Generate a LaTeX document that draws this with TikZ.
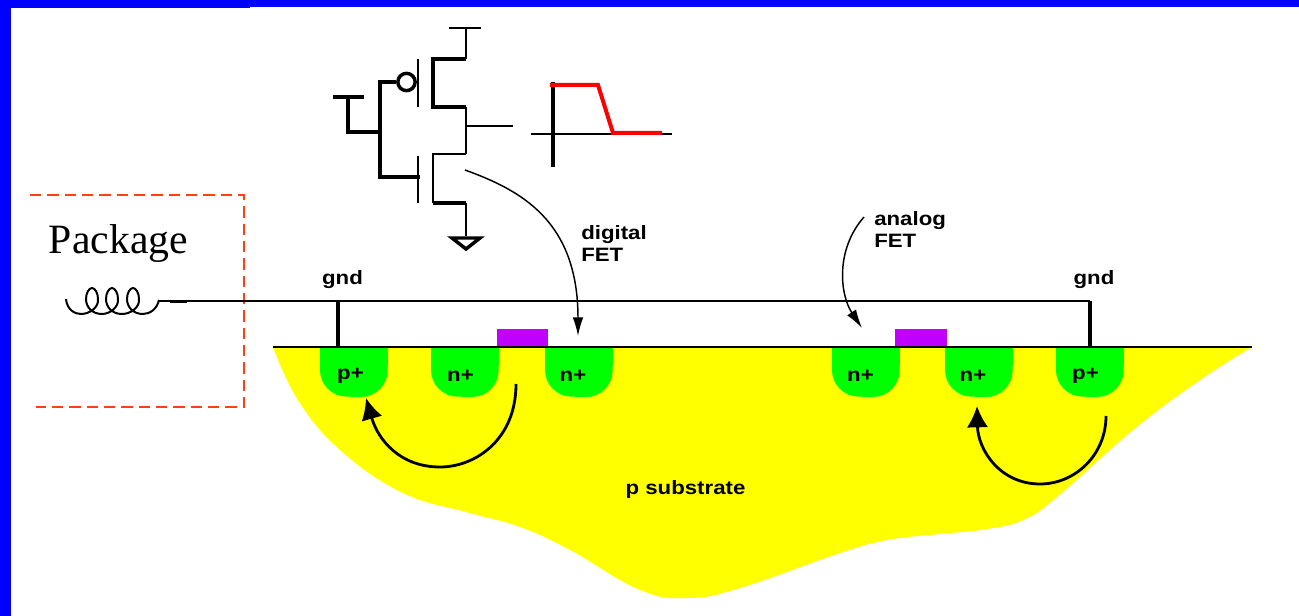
\documentclass[tikz,border=0pt]{standalone}
\usepackage{xcolor}
\definecolor{slideblue}{HTML}{0000FF}
\definecolor{pkgred}{HTML}{FF4015}
\definecolor{subyellow}{HTML}{FFFF00}
\definecolor{wellgreen}{HTML}{00FF00}
\definecolor{gatepurple}{HTML}{BF00FF}
\usepackage{fontspec}
\setmainfont{Liberation Serif}
\newfontfamily\labelfont[FakeStretch=1.15]{Liberation Sans}
\usetikzlibrary{arrows.meta,calc}

\begin{document}
\begin{tikzpicture}[x=0.75pt,y=-0.75pt,>=Latex]
\tikzset{
 wire/.style={draw=black,line width=1.9pt},
 thinwire/.style={draw=black,line width=1.5pt},
 thickwire/.style={draw=black,line width=2.3pt},
 bigarrow/.style={draw=black,line width=2.1pt,-{Latex[length=16pt,width=16pt]}},
 fetarrow/.style={draw=black,line width=1.1pt,-{Latex[length=14pt,width=8pt]}},
 lbl/.style={font=\labelfont\bfseries\fontsize{14.5}{16}\selectfont,inner sep=0pt,text=black,align=left},
 gate/.style={fill=gatepurple,minimum height=13pt,inner sep=0pt,anchor=south}
}
\useasboundingbox (0,0) rectangle (1299,616);
% slide frame
\fill[slideblue] (0,0) rectangle (1299,7);
\fill[slideblue] (0,0) rectangle (250,8);
\fill[slideblue] (0,0) rectangle (11,616);
% substrate
\fill[subyellow] plot[smooth,tension=0.7] coordinates {(273,347) (298,400) (340,450) (403,493) (470,513) (520,527) (570,550) (640,590) (688,598) (740,588) (840,553) (887,540) (940,534) (987,529) (1023,520) (1057,497) (1133,430) (1200,380) (1252,347)} -- cycle;
% wells
\foreach \wx/\wname/\wtext/\tx in {320/w1/p+/350.5,431/w2/n+/460.5,545/w3/n+/573,832/w4/n+/860.5,945/w5/n+/973,1056/w6/p+/1085.5}{
 \fill[wellgreen] (\wx,347) -- (\wx,370) arc[start angle=180,end angle=270,radius=20pt] -- (\wx+41,397) arc[start angle=270,end angle=360,radius=20pt] -- (\wx+68,347) -- cycle;
 \node[lbl] (\wname) at (\tx,376) {\wtext};
}
\node[gate,minimum width=38.5pt] (g1) at (522.5,347) {};
\node[gate,minimum width=39pt] (g2) at (921,347) {};
\coordinate (sl) at (273,347);
\coordinate (sr) at (1252,347);
\draw[thinwire] (sl)--(sr);
% package
\draw[pkgred,line width=1.9pt,dash pattern=on 8.5pt off 4.5pt] (30,195)--(244,195)--(244,407)--(36,407);
\node[font=\fontsize{31.3}{34}\selectfont,inner sep=0pt,anchor=base] (pkg) at (118.5,253.5) {Package};
\coordinate (coilend) at (159,300);
\draw[line width=1.5pt] (66,299) .. controls (67,310) and (75,314) .. (81,314)
 .. controls (90,314) and (99,307) .. (98,299) .. controls (98,293) and (95,288) .. (92,288) .. controls (89,288) and (86,293) .. (86,299) .. controls (86,307) and (92,314) .. (102,314)
 .. controls (110,314) and (119,307) .. (118,299) .. controls (118,293) and (115,288) .. (112,288) .. controls (109,288) and (106,293) .. (106,299) .. controls (106,307) and (112,314) .. (122,314)
 .. controls (131,314) and (140,307) .. (139,299) .. controls (139,293) and (136,288) .. (133,288) .. controls (130,288) and (127,293) .. (127,299) .. controls (127,307) and (133,314) .. (143,314)
 .. controls (150,314) and (157,309) .. (coilend);
% ground wire
\coordinate (tapl) at (338,301);
\coordinate (cornr) at (1090,301);
\draw[wire] (coilend)--(159,301)--(cornr);
\draw[thickwire] (cornr)--(1090,347);
\draw[line width=2.6pt] (170,301.5)--(187,301.5);
\draw[thickwire] (tapl)--(338,347);
\node[lbl,anchor=base] (gnd1) at (342.5,285) {gnd};
\node[lbl,anchor=base] (gnd2) at (1094,285) {gnd};
% inverter
\draw[thinwire] (449,28)--(481,28);
\draw[thinwire] (466,28)--(466,59);
\draw[thickwire] (466,59)--(433,59)--(433,107)--(466,107);
\draw[thinwire] (466,107)--(466,154);
\draw[thinwire] (466,126.5)--(513,126.5);
\draw[wire] (466,154)--(433,154)--(433,203);
\draw[thickwire] (433,203)--(466,203);
\draw[wire] (466,203)--(466,236);
\draw[thinwire] (418,59)--(418,107);
\draw[thinwire] (418,156)--(418,203);
\node[draw,circle,line width=2.6pt,minimum size=13pt,inner sep=0pt] (bub) at (406.5,82) {};
\draw[thickwire] (bub.west)--(380,82)--(380,177)--(420,177);
\draw[thickwire] (333,97)--(364,97);
\draw[thickwire] (348,97)--(348,132)--(380,132);
\draw[line width=2.6pt,line join=miter,fill=white] (452,238)--(480,238)--(466,249)--cycle;
% waveform
\draw[thinwire] (531,134)--(672,134);
\draw[thickwire] (553,82)--(553,167);
\draw[red,line width=3pt] (550,85)--(598,85)--(613,133)--(662,133);
% fet arrows
\coordinate (dstart) at (465,170);
\coordinate (dtip) at (578,336);
\coordinate (astart) at (864,217);
\coordinate (atip) at (862,328);
\draw[fetarrow] (dstart) .. controls (520,190) and (578,220) .. (dtip);
\draw[fetarrow] (astart) .. controls (835,250) and (840,295) .. (atip);
\node[lbl,anchor=base west] (dig) at (581,239.5) {digital};
\node[lbl,anchor=base west] (dfet) at (581,262) {FET};
\node[lbl,anchor=base west] (ana) at (874,226) {analog};
\node[lbl,anchor=base west] (afet) at (874,248) {FET};
\node[lbl,anchor=base] (psub) at (685.5,494) {p substrate};
% carrier paths
\coordinate (c1s) at (516,384);
\coordinate (c1t) at (366,398);
\coordinate (c2s) at (1106,416);
\coordinate (c2t) at (977,406);
\draw[bigarrow] (c1s) .. controls (516,440) and (475,467) .. (440,467) .. controls (400,467) and (378,440) .. (c1t);
\draw[bigarrow] (c2s) .. controls (1106,455) and (1075,484) .. (1040,484) .. controls (1000,484) and (978,450) .. (c2t);
\end{tikzpicture}
\end{document}
